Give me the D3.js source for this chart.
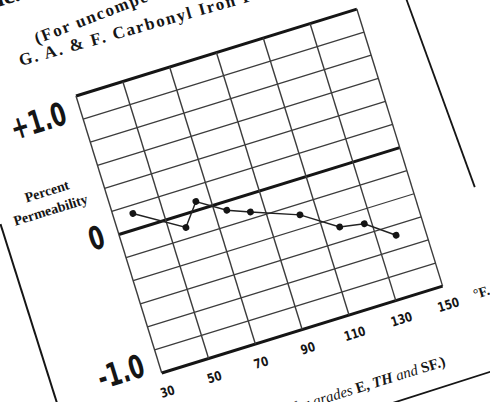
<!DOCTYPE html>
<html><head><meta charset="utf-8">
<script src="https://cdn.jsdelivr.net/npm/d3@7"></script>
<style>body{margin:0;background:#fff}svg{display:block}</style>
</head><body>
<svg id="c" width="490" height="402"></svg>
<script>
// ---- data ----
const temps = [38, 57, 64, 75, 84, 103, 117, 127, 138];           // °F
const permChange = [0.11, -0.09, 0.06, -0.06, -0.12, -0.24, -0.40, -0.43, -0.57]; // percent
const xTicks = [30, 50, 70, 90, 110, 130, 150];
const yGridSteps = 6; // grid lines per unit
const yTickValues = [1, 0, -1];
const yTickText = ["+1.0", "0", "-1.0"];

// ---- layout ----
const W = 294, H = 290;
const svg = d3.select("#c");
const g = svg.append("g").attr("transform", "translate(76,96) rotate(-17.2)");

const x = d3.scaleLinear().domain([30, 150]).range([0, W]);
const y = d3.scaleLinear().domain([1, -1]).range([0, H]);

const ink = "#151515", gridC = "#3c3c3c";

// page borders
g.append("line").attr("x1", -110).attr("y1", 100).attr("x2", -108).attr("y2", 460)
  .attr("stroke", ink).attr("stroke-width", 2);
g.append("line").attr("x1", 342).attr("y1", -40).attr("x2", 354).attr("y2", 205)
  .attr("stroke", ink).attr("stroke-width", 1.8);
g.append("line").attr("x1", 200).attr("y1", 387).attr("x2", 420).attr("y2", 385)
  .attr("stroke", ink).attr("stroke-width", 1.8);

// horizontal grid
const yGrid = d3.range(-yGridSteps, yGridSteps + 1).map(i => i / yGridSteps);
const isBold = d => Math.abs(d) < 1e-9 || Math.abs(Math.abs(d) - 1) < 1e-9;
g.selectAll(".hg").data(yGrid).join("line")
  .attr("x1", 0).attr("x2", W)
  .attr("y1", d => y(d)).attr("y2", d => y(d))
  .attr("stroke", d => isBold(d) ? ink : gridC)
  .attr("stroke-width", d => isBold(d) ? 3 : 1.3);

// vertical grid
g.selectAll(".vg").data(xTicks).join("line")
  .attr("x1", d => x(d)).attr("x2", d => x(d))
  .attr("y1", 0).attr("y2", H)
  .attr("stroke", gridC).attr("stroke-width", 1.4);

// data line
const pts = temps.map((t, i) => [t, permChange[i]]);
g.append("path").datum(pts)
  .attr("d", d3.line().x(d => x(d[0])).y(d => y(d[1])))
  .attr("fill", "none").attr("stroke", "#222").attr("stroke-width", 1.5);
g.selectAll(".pt").data(pts).join("circle")
  .attr("cx", d => x(d[0])).attr("cy", d => y(d[1])).attr("r", 3.4).attr("fill", ink);

// y labels
const yOff = [24, 8, -2];
const ySize = [32, 32, 32];
yTickValues.forEach((v, i) => {
  g.append("text")
    .attr("transform", `translate(-15,${y(v) + yOff[i]}) scale(0.68,1)`)
    .attr("text-anchor", "end")
    .attr("font-family", "DejaVu Sans, sans-serif").attr("font-weight", "bold")
    .attr("font-size", ySize[i]).attr("fill", ink)
    .text(yTickText[i]);
});

// axis title
g.append("text").attr("x", -56).attr("y", 87).attr("text-anchor", "middle")
  .attr("font-family", "Liberation Serif, serif").attr("font-weight", "bold")
  .attr("font-size", 14).attr("fill", ink).text("Percent");
g.append("text").attr("x", -58).attr("y", 106).attr("text-anchor", "middle")
  .attr("font-family", "Liberation Serif, serif").attr("font-weight", "bold")
  .attr("font-size", 14).attr("fill", ink).text("Permeability");

// x labels
g.selectAll(".xl").data(xTicks).join("text")
  .attr("transform", d => `translate(${x(d)},${H + 24}) scale(0.8,1)`)
  .attr("text-anchor", "middle")
  .attr("font-family", "DejaVu Sans, sans-serif").attr("font-weight", "bold")
  .attr("font-size", 13).attr("fill", ink)
  .text(d => d);
g.append("text").attr("x", x(150) + 27).attr("y", H + 22)
  .attr("font-family", "Liberation Serif, serif").attr("font-weight", "bold")
  .attr("font-size", 14).attr("fill", ink).text("°F.");

// titles (top, partially off-page)
g.append("text").attr("x", -24).attr("y", -108).attr("text-anchor", "end")
  .attr("font-family", "Liberation Serif, serif").attr("font-weight", "bold")
  .attr("font-size", 24).attr("fill", ink).text("Temperature Characteristic.");
g.append("text")
  .attr("transform", "translate(-22,-61) rotate(-4)")
  .attr("font-family", "Liberation Serif, serif").attr("font-weight", "bold")
  .attr("font-size", 17).attr("letter-spacing", 1.6).attr("fill", ink)
  .text("(For uncompensated toroids made from");
g.append("text")
  .attr("transform", "translate(-44,-45) rotate(1.5)")
  .attr("font-family", "Liberation Serif, serif").attr("font-weight", "bold")
  .attr("font-size", 17).attr("letter-spacing", 1.8).attr("fill", ink)
  .text("G. A. & F. Carbonyl Iron Powders");

// bottom caption
const cap = g.append("text").attr("x", 274).attr("y", 367).attr("text-anchor", "end")
  .attr("font-family", "Liberation Serif, serif").attr("font-size", 15).attr("fill", ink);
cap.append("tspan").attr("font-style", "italic").text("(Average values for grades ");
cap.append("tspan").attr("font-weight", "bold").text("E, ");
cap.append("tspan").attr("font-style", "italic").attr("font-weight", "bold").text("TH");
cap.append("tspan").attr("font-style", "italic").text(" and ");
cap.append("tspan").attr("font-weight", "bold").text("SF.)");
</script>
</body></html>
